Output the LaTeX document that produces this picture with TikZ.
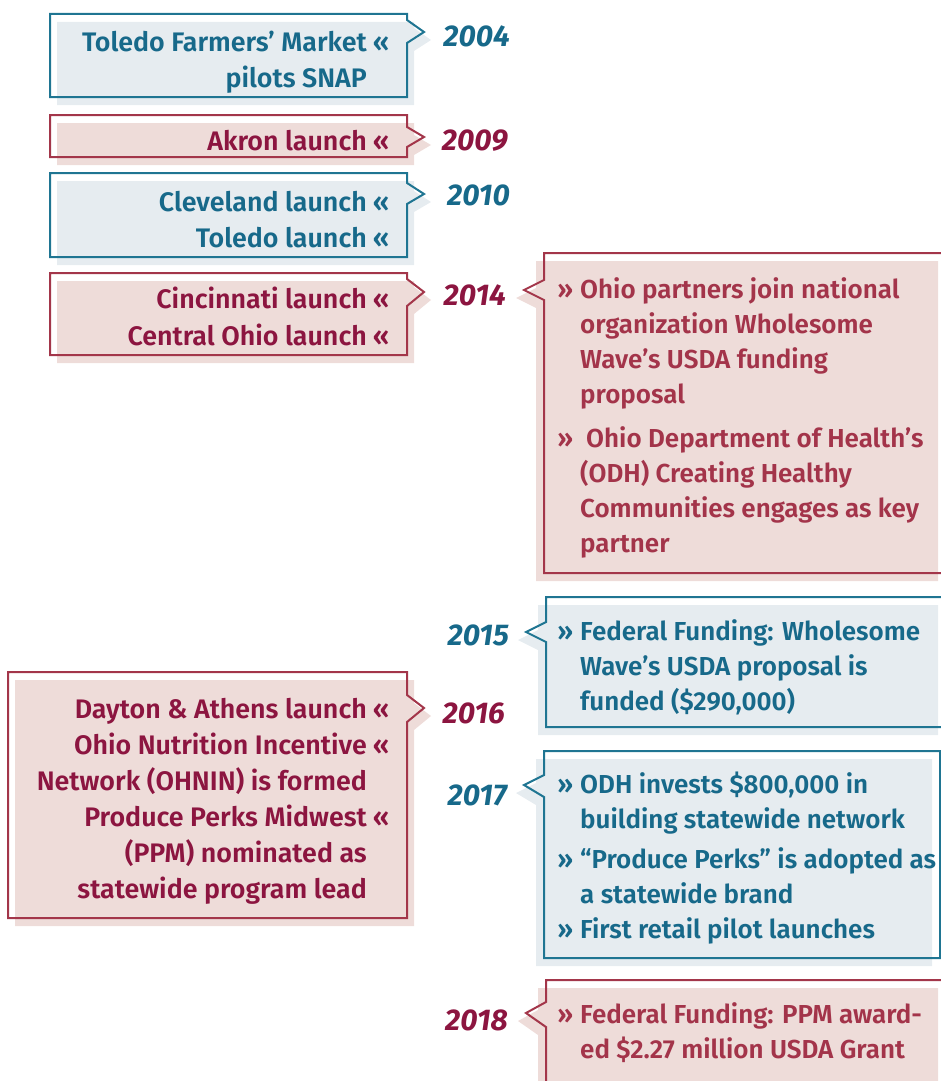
\documentclass[tikz,border=0pt]{standalone}
\usepackage{fontspec}
\setmainfont{Fira Sans}[UprightFont={* SemiBold}, ItalicFont={* SemiBold Italic}, BoldFont={* Bold}, BoldItalicFont={* Bold Italic}]
\definecolor{tealtxt}{HTML}{17698A}
\definecolor{tealline}{HTML}{1F7592}
\definecolor{tealfill}{HTML}{E6ECF0}
\definecolor{redtxt}{HTML}{8C1540}
\definecolor{redtxtb}{HTML}{A3344A}
\definecolor{redline}{HTML}{A3364A}
\definecolor{redfill}{HTML}{EEDCD9}
\newcommand\bodyfnt{\fontsize{26.8}{36}\selectfont}
\newcommand\rbodyfnt{\fontsize{26}{36}\selectfont}
\newcommand\yearfnt{\fontsize{30}{32}\selectfont\bfseries\itshape}
\newcommand\lbx[8]{%
  \begin{scope}[shift={(7,8)}]
    \fill[#1fill] (#2,#3) -- (#4,#3) -- (#4,#6) -- ({#4+17},#7) -- (#4,#8) -- (#4,#5) -- (#2,#5) -- cycle;
  \end{scope}
  \draw[#1line, boxline] (#2,#3) -- (#4,#3) -- (#4,#6) -- ({#4+17},#7) -- (#4,#8) -- (#4,#5) -- (#2,#5) -- cycle;
}
\newcommand\rbx[8]{%
  \begin{scope}[shift={(-8,8)}]
    \fill[#1fill] (#2,#3) -- (#4,#3) -- (#4,#5) -- (#2,#5) -- (#2,#8) -- ({#2-20},#7) -- (#2,#6) -- cycle;
  \end{scope}
  \draw[#1line, boxline] (#2,#3) -- (#4,#3) -- (#4,#5) -- (#2,#5) -- (#2,#8) -- ({#2-20},#7) -- (#2,#6) -- cycle;
}
\newcommand\lguil{\rlap{\hspace{6pt}«}}
\newcommand\rguil{\llap{»\hspace{7pt}}}
\tikzset{
  boxline/.style={line width=2pt, line join=miter},
  lt/.style={inner sep=0pt, anchor=base east, font=\bodyfnt},
  rt/.style={inner sep=0pt, anchor=base west, font=\rbodyfnt},
  yr/.style={inner sep=0pt, anchor=base east, font=\yearfnt},
}
\begin{document}
\begin{tikzpicture}[x=1pt,y=-1pt]
\useasboundingbox (0,0) rectangle (941,1081);
\clip (0,0) rectangle (941,1081);
% left boxes
\lbx{teal}{50}{14}{407}{97}{20}{32}{43}
\lbx{red}{50}{115}{407}{157}{127}{137}{147}
\lbx{teal}{50}{173}{407}{257}{183}{194}{204}
\lbx{red}{50}{273}{407}{355}{279}{292}{306}
\lbx{red}{8}{672}{407}{918}{695}{708}{722}
% right boxes
\rbx{red}{544}{253}{946}{573}{280}{290}{300}
\rbx{teal}{546}{597}{946}{727}{622}{632}{642}
\rbx{teal}{544}{751}{940}{958}{775}{785}{797}
\rbx{red}{546}{980}{946}{1095}{1002}{1013}{1027}
% left texts
\begin{scope}[text=tealtxt]
\node[lt] (t04a) at (367,52) {Toledo Farmers’ Market\lguil};
\node[lt] (t04b) at (367,88) {pilots SNAP};
\node[lt] (t10a) at (367,211) {Cleveland launch\lguil};
\node[lt] (t10b) at (367,247) {Toledo launch\lguil};
\end{scope}
\begin{scope}[text=redtxt]
\node[lt] (t09a) at (367,150) {Akron launch\lguil};
\node[lt] (t14a) at (367,308) {Cincinnati launch\lguil};
\node[lt] (t14b) at (367,345) {Central Ohio launch\lguil};
\node[lt] (t16a) at (367,718) {Dayton \& Athens launch\lguil};
\node[lt] (t16b) at (367,754) {Ohio Nutrition Incentive\lguil};
\node[lt] (t16c) at (367,790) {Network (OHNIN) is formed};
\node[lt] (t16d) at (367,826) {Produce Perks Midwest\lguil};
\node[lt] (t16e) at (367,862) {(PPM) nominated as};
\node[lt] (t16f) at (367,898) {statewide program lead};
\end{scope}
% years
\node[yr, text=tealtxt] (y04) at (510,47) {2004};
\node[yr, text=redtxt] (y09) at (508,150) {2009};
\node[yr, text=tealtxt] (y10) at (510,205) {2010};
\node[yr, text=redtxt] (y14) at (506,305) {2014};
\node[yr, text=tealtxt] (y15) at (509,645) {2015};
\node[yr, text=redtxt] (y16) at (505,723) {2016};
\node[yr, text=tealtxt] (y17) at (507,805) {2017};
\node[yr, text=redtxt] (y18) at (508,1030) {2018};
% right texts
\begin{scope}[text=redtxtb]
\node[rt] (r14a) at (580,298) {\rguil Ohio partners join national};
\node[rt] (r14b) at (580,333) {organization Wholesome};
\node[rt] (r14c) at (580,368) {Wave’s USDA funding};
\node[rt] (r14d) at (580,403) {proposal};
\node[rt] (r14e) at (586,447) {\llap{»\hspace{13pt}}Ohio Department of Health’s};
\node[rt] (r14f) at (580,482) {(ODH) Creating Healthy};
\node[rt] (r14g) at (580,517) {Communities engages as key};
\node[rt] (r14h) at (580,552) {partner};
\node[rt] (r18a) at (580,1023) {\rguil Federal Funding: PPM award-};
\node[rt] (r18b) at (580,1058) {ed \$2.27 million USDA Grant};
\end{scope}
\begin{scope}[text=tealtxt]
\node[rt] (r15a) at (580,640) {\rguil Federal Funding: Wholesome};
\node[rt] (r15b) at (580,675) {Wave’s USDA proposal is};
\node[rt] (r15c) at (580,710) {funded (\$290,000)};
\node[rt] (r17a) at (580,793) {\rguil ODH invests \$800,000 in};
\node[rt] (r17b) at (580,828) {building statewide network};
\node[rt] (r17c) at (580,868) {\rguil “Produce Perks” is adopted as};
\node[rt] (r17d) at (580,903) {a statewide brand};
\node[rt] (r17e) at (580,938) {\rguil First retail pilot launches};
\end{scope}
\end{tikzpicture}
\end{document}
